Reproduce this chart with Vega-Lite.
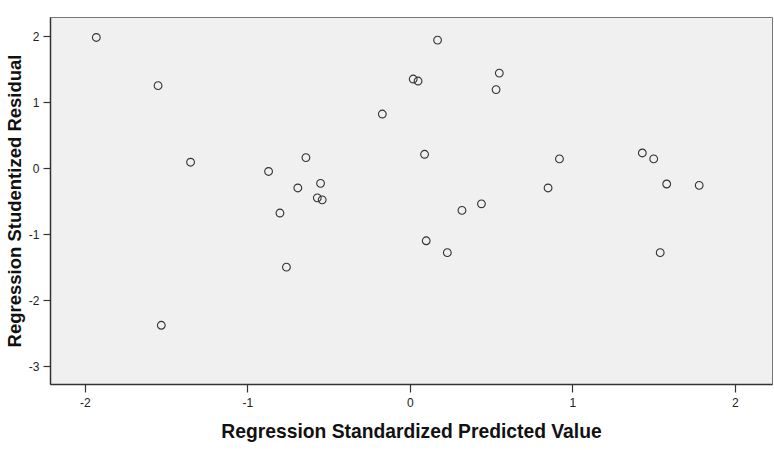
{
  "$schema": "https://vega.github.io/schema/vega-lite/v6.json",
  "width": 722,
  "height": 367,
  "autosize": {"type": "none"},
  "padding": {"left": 50, "top": 17, "right": 2, "bottom": 66},
  "background": "white",
  "config": {
    "view": {"fill": "#f0f0f0", "stroke": "#777", "strokeWidth": 1},
    "axis": {
      "grid": false,
      "domainColor": "#333",
      "domainWidth": 1.5,
      "tickColor": "#333",
      "tickWidth": 1.2,
      "labelFont": "Liberation Sans",
      "labelFontSize": 12,
      "labelColor": "#222",
      "titleFont": "Liberation Sans",
      "titleFontSize": 18.5,
      "titleFontWeight": "bold",
      "titleColor": "#111"
    }
  },
  "data": {
    "values": [
      {"pred": -1.93, "resid": 1.98},
      {"pred": -1.55, "resid": 1.25},
      {"pred": -1.35, "resid": 0.09},
      {"pred": -1.53, "resid": -2.38},
      {"pred": -0.87, "resid": -0.05},
      {"pred": -0.64, "resid": 0.16},
      {"pred": -0.69, "resid": -0.30},
      {"pred": -0.80, "resid": -0.68},
      {"pred": -0.76, "resid": -1.50},
      {"pred": -0.55, "resid": -0.23},
      {"pred": -0.57, "resid": -0.45},
      {"pred": -0.54, "resid": -0.48},
      {"pred": -0.17, "resid": 0.82},
      {"pred": 0.02, "resid": 1.35},
      {"pred": 0.05, "resid": 1.32},
      {"pred": 0.17, "resid": 1.94},
      {"pred": 0.09, "resid": 0.21},
      {"pred": 0.10, "resid": -1.10},
      {"pred": 0.32, "resid": -0.64},
      {"pred": 0.23, "resid": -1.28},
      {"pred": 0.44, "resid": -0.54},
      {"pred": 0.55, "resid": 1.44},
      {"pred": 0.53, "resid": 1.19},
      {"pred": 0.85, "resid": -0.30},
      {"pred": 0.92, "resid": 0.14},
      {"pred": 1.43, "resid": 0.23},
      {"pred": 1.50, "resid": 0.14},
      {"pred": 1.58, "resid": -0.24},
      {"pred": 1.54, "resid": -1.28},
      {"pred": 1.78, "resid": -0.26}
    ]
  },
  "mark": {"type": "point", "shape": "circle", "filled": false, "size": 60, "stroke": "#333", "strokeWidth": 1.1, "opacity": 1},
  "encoding": {
    "x": {
      "field": "pred",
      "type": "quantitative",
      "title": "Regression Standardized Predicted Value",
      "scale": {"domain": [-2.215, 2.228], "nice": false, "zero": false},
      "axis": {"values": [-2, -1, 0, 1, 2], "tickSize": 8, "labelPadding": 5, "titlePadding": 14, "titleFontSize": 19.3, "labelExpr": "datum.value < 0 ? '-' + abs(datum.value) : '' + datum.value"}
    },
    "y": {
      "field": "resid",
      "type": "quantitative",
      "title": "Regression Studentized Residual",
      "scale": {"domain": [-3.27, 2.29], "nice": false, "zero": false},
      "axis": {"values": [-3, -2, -1, 0, 1, 2], "tickSize": 7, "labelPadding": 4, "titlePadding": 4, "labelExpr": "datum.value < 0 ? '-' + abs(datum.value) : '' + datum.value"}
    }
  }
}
